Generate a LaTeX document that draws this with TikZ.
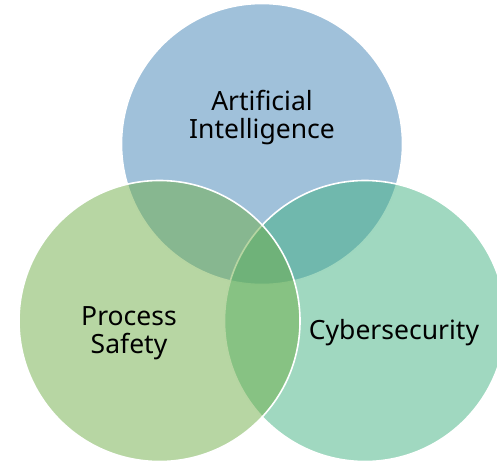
\documentclass[tikz,border=0pt]{standalone}
\usepackage{fontspec}
\setmainfont{Noto Sans}
\definecolor{aiC}{RGB}{65,131,181}
\definecolor{psC}{RGB}{111,173,71}
\definecolor{cyC}{RGB}{65,177,129}
\begin{document}
\begin{tikzpicture}[x=1pt,y=-1pt,
  venn/.style={circle,minimum size=281pt,inner sep=0pt,draw=white,line width=1.6pt,fill opacity=0.5,text opacity=1},
  lbl/.style={font=\fontsize{26.5}{28}\selectfont,align=center,text=black,inner sep=0pt}]
\useasboundingbox (0,0) rectangle (497,463);
\node[venn,fill=aiC] (ai) at (262,144) {};
\node[venn,fill=cyC] (cy) at (365,321) {};
\node[venn,fill=psC] (ps) at (159.5,321) {};
\node[lbl] (tai) at (262,118) {Artificial\\Intelligence};
\node[lbl] (tps) at (129,333) {Process\\Safety};
\node[lbl] (tcy) at (394,333) {Cybersecurity};
\end{tikzpicture}
\end{document}
